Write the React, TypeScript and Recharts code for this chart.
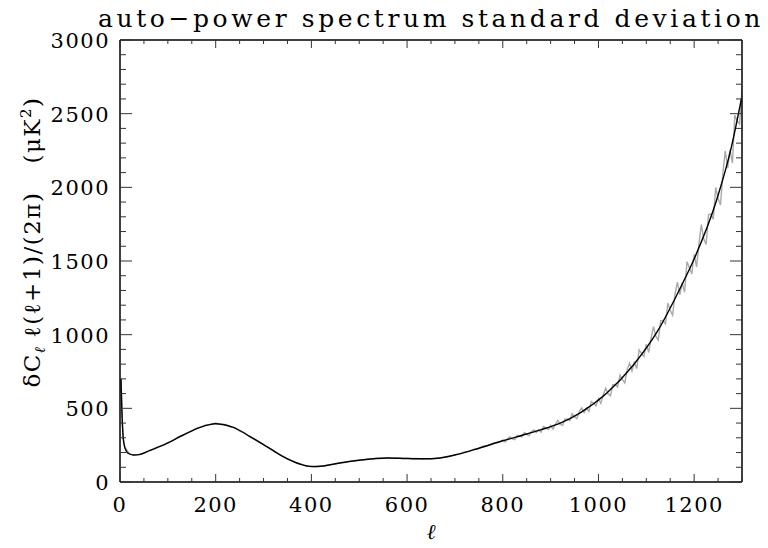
import React from "react";
import { LineChart, Line, XAxis, YAxis, Label } from "recharts";

// multipole ell values and smooth fitted standard deviation (black)
const fitEll = [2, 3, 4, 5, 7, 10, 14, 20, 28, 40, 63, 98, 132, 167, 185, 199, 215, 237, 272, 307, 341, 376, 400, 420, 450, 500, 560, 600, 650, 700, 750, 800, 850, 880, 919, 961, 1017, 1073, 1125, 1170, 1202, 1247, 1278, 1299];
const fitValues = [700, 590, 480, 395, 290, 235, 205, 190, 183, 186, 215, 262, 319, 371, 388, 395, 390, 371, 308, 240, 172, 122, 105, 107, 124, 148, 163, 160, 158, 183, 229, 280, 326, 355, 398, 468, 602, 794, 1032, 1310, 1529, 1914, 2276, 2604];

// measured (noisy) standard deviation (gray)
const measEll = [2, 3, 4, 5, 7, 10, 20, 30, 40, 50, 60, 70, 80, 90, 100, 110, 120, 130, 140, 150, 160, 170, 180, 190, 200, 210, 220, 230, 240, 250, 260, 270, 280, 290, 300, 310, 320, 330, 340, 350, 360, 370, 380, 390, 400, 410, 420, 430, 440, 450, 460, 470, 480, 490, 500, 510, 520, 530, 540, 550, 560, 570, 580, 590, 600, 610, 620, 630, 640, 650, 660, 670, 680, 690, 700, 710, 720, 730, 740, 750, 760, 770, 780, 790,
  800, 805, 810, 815, 820, 825, 830, 835, 840, 845, 850, 855, 860, 865, 870, 875, 880, 885, 890, 895,
  900, 905, 910, 915, 920, 925, 930, 935, 940, 945, 950, 955, 960, 965, 970, 975, 980, 985, 990, 995,
  1000, 1005, 1010, 1015, 1020, 1025, 1030, 1035, 1040, 1045, 1050, 1055, 1060, 1065, 1070, 1075, 1080, 1085, 1090, 1095,
  1100, 1105, 1110, 1115, 1120, 1125, 1130, 1135, 1140, 1145, 1150, 1155, 1160, 1165, 1170, 1175, 1180, 1185, 1190, 1195,
  1200, 1205, 1210, 1215, 1220, 1225, 1230, 1235, 1240, 1245, 1250, 1255, 1260, 1265, 1270, 1275, 1280, 1285, 1290, 1295, 1300];
const measValues = [700, 600, 480, 390, 290, 236, 191, 182, 187, 196, 212, 224, 240, 250, 267, 280, 303, 314, 334, 345, 366, 372, 389, 390, 400, 391, 390, 374, 368, 346, 333, 309, 294, 271, 256, 232, 216, 192, 176, 155, 144, 127, 119, 109, 106, 104, 108, 110, 118, 121, 130, 132, 140, 142, 150, 151, 157, 158, 162, 161, 165, 162, 163, 160, 162, 158, 159, 156, 158, 157, 162, 164, 171, 175, 186, 190, 204, 208, 223, 227, 244, 248, 264, 268,
  285, 272, 292, 308, 293, 287, 315, 314, 307, 336, 323, 315, 343, 354, 336, 354, 337, 376, 367, 356,
  384, 359, 392, 418, 392, 383, 428, 427, 416, 464, 443, 430, 479, 503, 472, 503, 478, 547, 534, 517,
  565, 534, 592, 637, 598, 585, 660, 660, 646, 726, 695, 672, 762, 807, 754, 811, 770, 896, 873, 851,
  935, 879, 977, 1055, 988, 964, 1095, 1096, 1073, 1215, 1165, 1132, 1275, 1357, 1270, 1354, 1288, 1494, 1455, 1411,
  1545, 1460, 1615, 1747, 1650, 1612, 1815, 1819, 1783, 1999, 1925, 1880, 2095, 2247, 2130, 2255, 2165, 2490, 2450, 2430, 2670];

// axis ticks
const xTicks = Array.from({ length: 27 }, (_, i) => i * 50);
const xLabels = [0, 200, 400, 600, 800, 1000, 1200];
const yTicks = Array.from({ length: 31 }, (_, i) => i * 100);
const yLabels = [0, 500, 1000, 1500, 2000, 2500, 3000];

const fitData = fitEll.map((l, i) => ({ l, v: fitValues[i] }));
const measData = measEll.map((l, i) => ({ l, v: measValues[i] }));

const FONT = "'DejaVu Serif', serif";
const TICK = "#333";

const BottomTick = (p: any) => {
  const v = p.payload.value;
  const major = xLabels.includes(v);
  return (
    <g>
      <line x1={p.x} x2={p.x} y1={p.y} y2={p.y - (major ? 8 : 4)} stroke={TICK} strokeWidth={1} />
      {major && (
        <text x={p.x} y={p.y + 30} textAnchor="middle" fontFamily={FONT} fontSize={21} letterSpacing={1.5} fill="#000">
          {v}
        </text>
      )}
    </g>
  );
};

const TopTick = (p: any) => {
  const v = p.payload.value;
  const major = xLabels.includes(v);
  return <line x1={p.x} x2={p.x} y1={p.y} y2={p.y + (major ? 8 : 4)} stroke={TICK} strokeWidth={1} />;
};

const LeftTick = (p: any) => {
  const v = p.payload.value;
  const major = yLabels.includes(v);
  return (
    <g>
      <line x1={p.x} x2={p.x + (major ? 12 : 6)} y1={p.y} y2={p.y} stroke={TICK} strokeWidth={1} />
      {major && (
        <text x={p.x - 10} y={p.y + 8} textAnchor="end" fontFamily={FONT} fontSize={21} letterSpacing={1.5} fill="#000">
          {v}
        </text>
      )}
    </g>
  );
};

const RightTick = (p: any) => {
  const v = p.payload.value;
  const major = yLabels.includes(v);
  return <line x1={p.x} x2={p.x - (major ? 12 : 6)} y1={p.y} y2={p.y} stroke={TICK} strokeWidth={1} />;
};

const TitleLabel = () => (
  <text x={431} y={27} textAnchor="middle" fontFamily={FONT} fontSize={25} letterSpacing={3.6} fill="#000">
    auto−power spectrum standard deviation
  </text>
);

const XTitle = () => (
  <text x={431} y={539} textAnchor="middle" fontFamily={FONT} fontSize={21} fontStyle="italic" fill="#000">
    ℓ
  </text>
);

const YTitle = () => (
  <text
    x={242}
    y={40}
    transform="rotate(-90) translate(-484 0)"
    textAnchor="middle"
    fontFamily={FONT}
    fontSize={23}
    letterSpacing={1.5}
    fill="#000"
  >
    <tspan>δC</tspan>
    <tspan fontSize={15} dy={5} fontStyle="italic">ℓ</tspan>
    <tspan dy={-5} dx={8}>ℓ(ℓ+1)/(2π)</tspan>
    <tspan dx={28}>(μK</tspan>
    <tspan fontSize={15} dy={-9}>2</tspan>
    <tspan dy={9}>)</tspan>
  </text>
);

export default function App() {
  return (
    <div style={{ marginTop: -8, marginLeft: -8, width: 768, height: 548 }}>
      <LineChart width={768} height={548} margin={{ top: 39, right: 25, bottom: 26, left: 0 }}>
        <XAxis
          xAxisId="b"
          type="number"
          dataKey="l"
          domain={[0, 1300]}
          ticks={xTicks}
          interval={0}
          height={40}
          tickSize={0}
          tickMargin={0}
          tick={<BottomTick />}
          axisLine={{ stroke: "#000", strokeWidth: 1.5 }}
          tickLine={false}
          allowDataOverflow
        >
          <Label content={<XTitle />} />
        </XAxis>
        <XAxis
          xAxisId="t"
          orientation="top"
          type="number"
          dataKey="l"
          domain={[0, 1300]}
          ticks={xTicks}
          interval={0}
          height={1}
          tickSize={0}
          tickMargin={0}
          tick={<TopTick />}
          axisLine={{ stroke: "#000", strokeWidth: 1.5 }}
          tickLine={false}
          allowDataOverflow
        >
          <Label content={<TitleLabel />} />
        </XAxis>
        <YAxis
          yAxisId="l"
          type="number"
          domain={[0, 3000]}
          ticks={yTicks}
          interval={0}
          width={120}
          tickSize={0}
          tickMargin={0}
          tick={<LeftTick />}
          axisLine={{ stroke: "#000", strokeWidth: 1.5 }}
          tickLine={false}
          allowDataOverflow
        >
          <Label content={<YTitle />} />
        </YAxis>
        <YAxis
          yAxisId="r"
          orientation="right"
          type="number"
          domain={[0, 3000]}
          ticks={yTicks}
          interval={0}
          width={1}
          tickSize={0}
          tickMargin={0}
          tick={<RightTick />}
          axisLine={{ stroke: "#000", strokeWidth: 1.5 }}
          tickLine={false}
          allowDataOverflow
        />
        <Line
          xAxisId="b"
          yAxisId="l"
          data={measData}
          dataKey="v"
          type="linear"
          stroke="#aaaaaa"
          strokeWidth={1.4}
          dot={false}
          isAnimationActive={false}
        />
        <Line
          xAxisId="b"
          yAxisId="l"
          data={fitData}
          dataKey="v"
          type="monotone"
          stroke="#000"
          strokeWidth={1.4}
          dot={false}
          isAnimationActive={false}
        />
      </LineChart>
    </div>
  );
}
